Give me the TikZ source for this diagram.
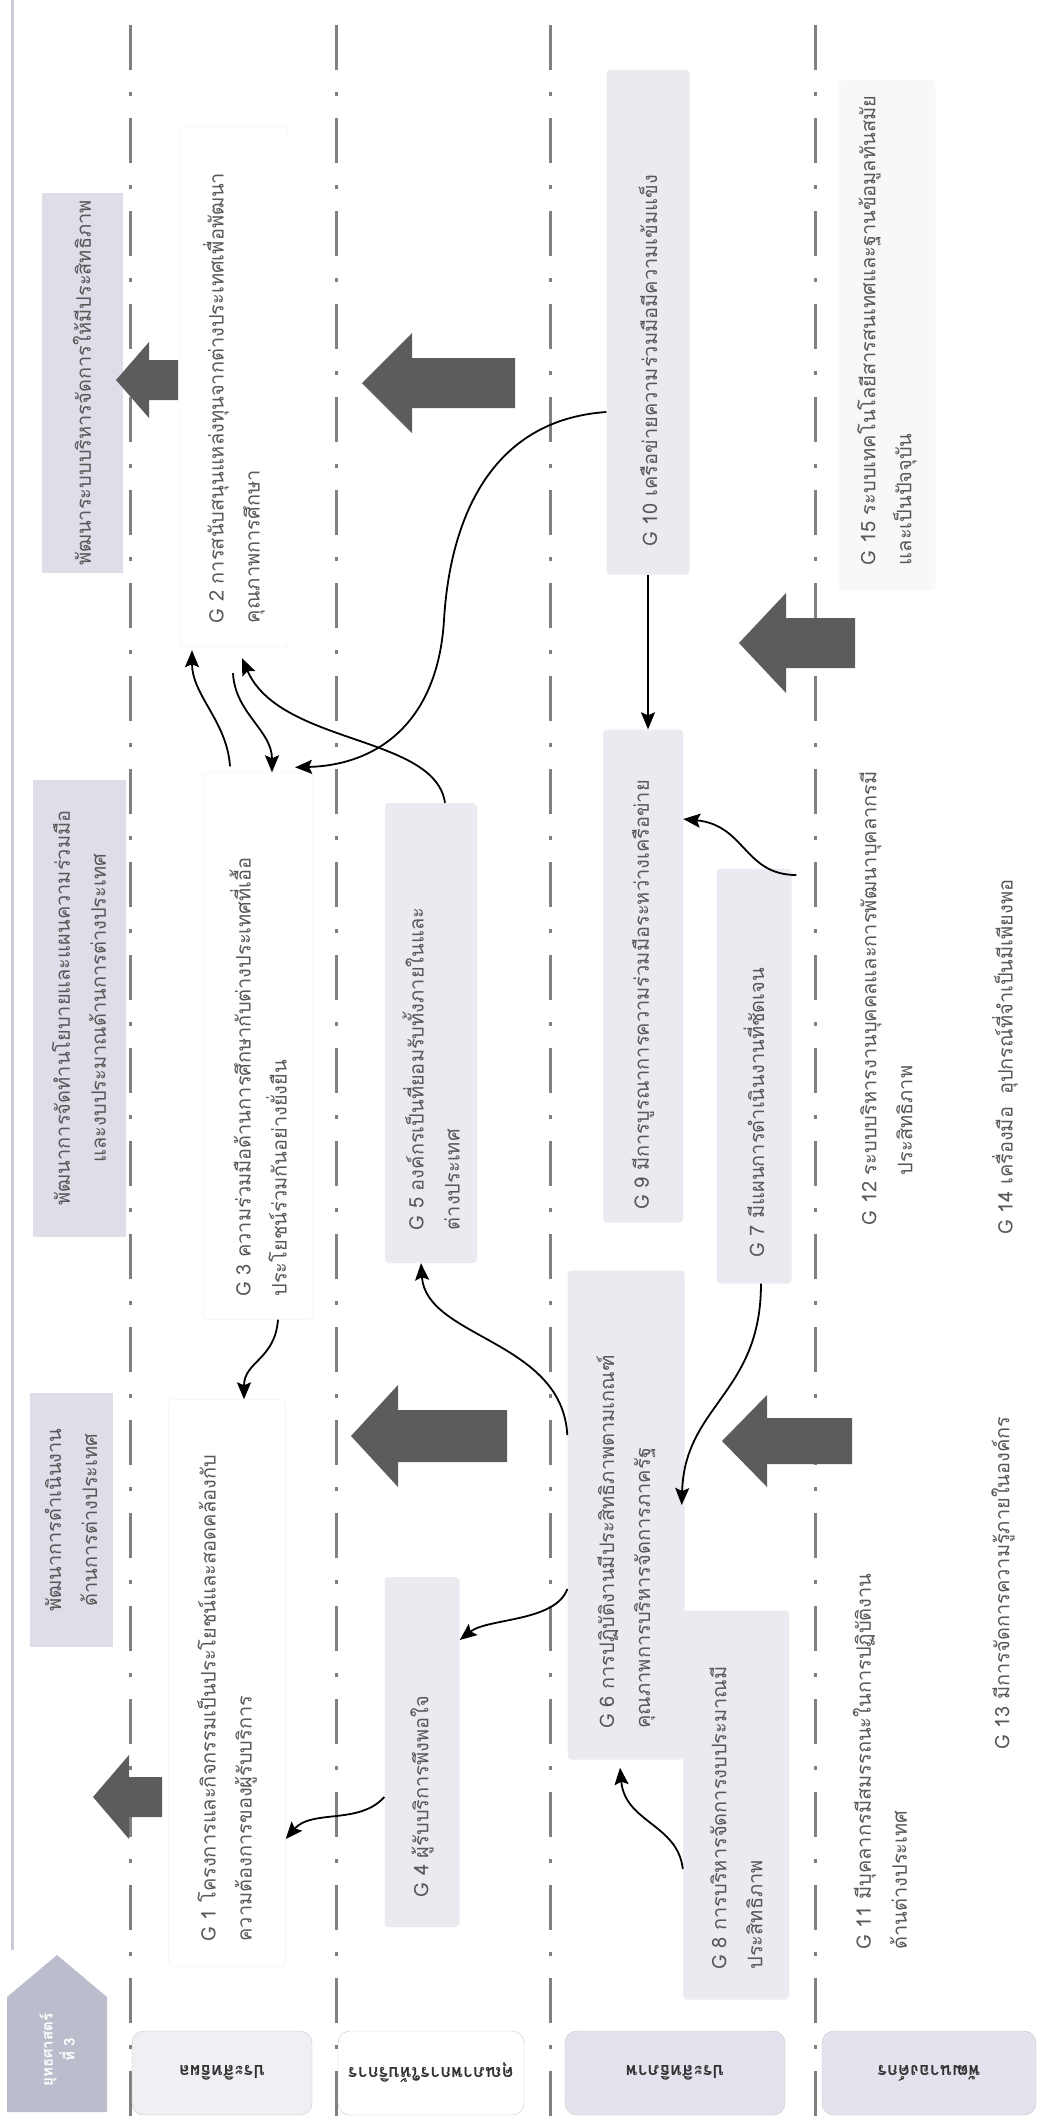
\documentclass[tikz,border=0pt]{standalone}
\usepackage{fontspec}
\setmainfont{Loma}[Script=Thai]
\usetikzlibrary{arrows.meta,positioning}

\definecolor{boxgray}{RGB}{234,234,240}
\definecolor{headgray}{RGB}{221,222,231}
\definecolor{lanegray}{RGB}{226,227,236}
\definecolor{arrowgray}{RGB}{92,92,92}
\definecolor{txtgray}{RGB}{88,88,88}
\definecolor{pentgray}{RGB}{188,189,204}
\definecolor{edgegray}{RGB}{200,202,214}

\tikzset{
  goal/.style={rotate=90, align=left, text=txtgray, inner ysep=0pt,
    rounded corners=4pt, font=\fontsize{20}{36}\selectfont},
  goalbox/.style={goal, fill=boxgray},
  goalwhite/.style={goal, fill=white, draw=black!8},
  headbox/.style={rotate=90, align=center, fill=headgray, text=txtgray,
    inner sep=0pt, font=\fontsize{20}{36}\selectfont},
  lanelabel/.style={rotate=180, draw=black!22, rounded corners=12pt,
    minimum height=84, text=black!80, font=\bfseries\fontsize{18}{22}\selectfont},
  lanesep/.style={draw=black!50, line width=3pt,
    dash pattern=on 45pt off 22pt on 4pt off 22pt},
  link/.style={draw=black, line width=1.8pt,
    -{Stealth[length=17pt,width=14pt,inset=3pt]}}
}

\begin{document}
\begin{tikzpicture}[x=1pt,y=-1pt]
\useasboundingbox (0,0) rectangle (1040,2118);

%Lane separators
\draw[edgegray, line width=3pt] (12,0) -- (12,1950);
\foreach \x in {130,336,550,815}
  \draw[lanesep] (\x,25) -- (\x,2118);

%Shape: header pentagon
\fill[pentgray] (7,1997) -- (57,1955) -- (107,1997) -- (107,2112) -- (7,2112) -- cycle;
\node (head) [rotate=90, align=center, text=white, font=\bfseries\fontsize{15}{22}\selectfont] at (57,2050) {ยุทธศาสตร์\\ที่ 3};

% Lane labels
\node (l1) [lanelabel, fill=boxgray!70, minimum width=180] at (222,2073) {ประสิทธิผล};
\node (l2) [lanelabel, fill=white, minimum width=186] at (431,2073) {คุณภาพการให้บริการ};
\node (l3) [lanelabel, fill=lanegray, minimum width=220] at (675,2073) {ประสิทธิภาพ};
\node (l4) [lanelabel, fill=lanegray, minimum width=214] at (929,2073) {พัฒนาองค์กร};

% Header boxes
\node (h1) [headbox, minimum width=380, minimum height=81] at (82,383) {พัฒนาระบบบริหารจัดการให้มีประสิทธิภาพ};
\node (h2) [headbox, minimum width=457, minimum height=93] at (79,1008) {พัฒนาการจัดทำนโยบายและแผนความร่วมมือ\\และงบประมาณด้านการต่างประเทศ};
\node (h3) [headbox, minimum width=254, minimum height=83] at (71,1520) {พัฒนาการดำเนินงาน\\ด้านการต่างประเทศ};

%Shape: Arrows
\fill[arrowgray] (116,380) -- (149,342) -- (149,360) -- (178,360) -- (178,400) -- (149,400) -- (149,418) -- cycle;
\fill[arrowgray] (362,383) -- (412,333) -- (412,358) -- (515,358) -- (515,408) -- (412,408) -- (412,433) -- cycle;
\fill[arrowgray] (351,1436) -- (398,1385) -- (398,1410) -- (507,1410) -- (507,1462) -- (398,1462) -- (398,1487) -- cycle;
\fill[arrowgray] (722,1441) -- (767,1395) -- (767,1418) -- (852,1418) -- (852,1464) -- (767,1464) -- (767,1487) -- cycle;
\fill[arrowgray] (739,643) -- (786,593) -- (786,618) -- (855,618) -- (855,668) -- (786,668) -- (786,693) -- cycle;
\fill[arrowgray] (93,1797) -- (129,1755) -- (129,1777) -- (162,1777) -- (162,1817) -- (129,1817) -- (129,1839) -- cycle;

% Goals: ประสิทธิผล
\node (g1) [goalwhite, text width=517, inner xsep=25, minimum height=117] at (227,1683) {G 1 โครงการและกิจกรรมเป็นประโยชน์และสอดคล้องกับ\\ความต้องการของผู้รับบริการ};
\node (g2) [goalwhite, text width=472, inner xsep=24, minimum height=108] at (234,387) {G 2 การสนับสนุนแหล่งทุนจากต่างประเทศเพื่อพัฒนา\\คุณภาพการศึกษา};
\node (g3) [goalwhite, text width=501, inner xsep=23, minimum height=110] at (258,1046) {G 3 ความร่วมมือด้านการศึกษากับต่างประเทศที่เอื้อ\\ประโยชน์ร่วมกันอย่างยั่งยืน};
% Goals: คุณภาพการให้บริการ
\node (g4) [goalbox, text width=290, inner xsep=30, minimum height=75] at (422,1752) {G 4 ผู้รับบริการพึงพอใจ};
\node (g5) [goalbox, text width=394, inner xsep=33, minimum height=92] at (431,1033) {G 5 องค์กรเป็นที่ยอมรับทั้งภายในและ\\ต่างประเทศ};
% Goals: ประสิทธิภาพ
\node (g6) [goalbox, text width=427, inner xsep=31, minimum height=117] at (626,1515) {G 6 การปฏิบัติงานมีประสิทธิภาพตามเกณฑ์\\คุณภาพการบริหารจัดการภาครัฐ};
\node (g7) [goalbox, text width=363, inner xsep=26, minimum height=75] at (754,1076) {G 7 มีแผนการดำเนินงานที่ชัดเจน};
\node (g8) [goalbox, text width=329, inner xsep=30, minimum height=106] at (736,1805) {G 8 การบริหารจัดการงบประมาณมี\\ประสิทธิภาพ};
\node (g9) [goalbox, text width=467, inner xsep=13, minimum height=80] at (643,976) {G 9 มีการบูรณาการความร่วมมือระหว่างเครือข่าย};
\node (g10) [goalbox, text width=449, inner xsep=28, minimum height=83] at (648,322) {G 10 เครือข่ายความร่วมมือมีความเข้มแข็ง};
% Goals: พัฒนาองค์กร
\node (g11) [goal, text width=365, inner xsep=25, minimum height=85] at (880,1767) {G 11 มีบุคลากรมีสมรรถนะในการปฏิบัติงาน\\ด้านต่างประเทศ};
\node (g12) [goal, text width=440, inner xsep=25, minimum height=97] at (886,1005) {G 12 ระบบบริหารงานบุคคลและการพัฒนาบุคลากรมี\\\hspace*{50pt}ประสิทธิภาพ};
\node (g13) [goal, anchor=west, text width=420, inner xsep=0pt, minimum height=50] at (1003,1750) {G 13 มีการจัดการความรู้ภายในองค์กร};
\node (g14) [goal, anchor=west, text width=600, inner xsep=0pt, minimum height=50] at (1005,1235) {G 14 เครื่องมือ\hspace{12pt}อุปกรณ์ที่จำเป็นมีเพียงพอ};
\node (g15) [goal, fill=boxgray!35, text width=460, inner xsep=25, minimum height=97] at (887,335) {G 15 ระบบเทคโนโลยีสารสนเทศและฐานข้อมูลทันสมัย\\และเป็นปัจจุบัน};

% Links
\draw[link] ([yshift=-45pt]g4.north) .. controls +(-25,28) and +(26,-30) .. ([yshift=-156pt]g1.south);
\draw[link] ([yshift=-64pt]g8.north) .. controls +(-5,-45) and +(5,55) .. ([xshift=-6pt,yshift=-8pt]g6.west);
\draw[link] ([xshift=20pt]g3.west) .. controls +(-3,40) and +(0,-38) .. ([xshift=17pt]g1.east);
\draw[link] ([yshift=-74pt]g6.north) .. controls +(-12,33) and +(28,-22) .. ([yshift=112pt]g4.south);
\draw[link] ([yshift=80pt]g6.north) .. controls +(-5,-95) and +(5,75) .. ([xshift=-10pt]g5.west);
\draw[link] ([xshift=7pt]g7.west) .. controls +(0,110) and +(3,-100) .. ([xshift=-3pt,yshift=10pt]g6.south);
\draw[link] (g10.west) -- (g10.west |- g9.east);
\draw[link] ([xshift=-41pt,yshift=130pt]g12.north) .. controls +(-52,0) and +(62,6) .. ([yshift=157pt]g9.south);
\draw[link] ([yshift=-90pt]g10.north) .. controls (490,420) and (450,520) .. (444,620) .. controls (438,720) and (380,765) .. ([xshift=37pt,yshift=5pt]g3.east);
\draw[link] ([xshift=14pt]g5.east) .. controls +(-10,-68) and +(38,87) .. ([xshift=8pt,yshift=-11pt]g2.west);
\draw[link] ([xshift=-28pt,yshift=6pt]g3.east) .. controls +(-3,-45) and +(0,45) .. ([xshift=-42pt,yshift=-3pt]g2.west);
\draw[link] ([xshift=-1pt,yshift=-26pt]g2.west) .. controls +(2,40) and +(0,-42) .. ([xshift=14pt]g3.east);

\end{tikzpicture}
\end{document}
